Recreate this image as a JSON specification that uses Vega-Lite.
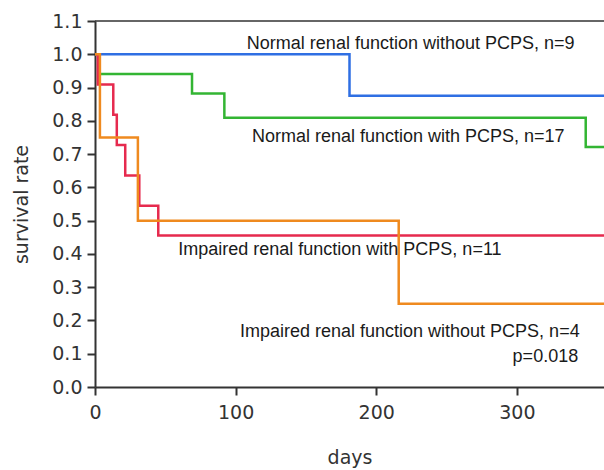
{
  "$schema": "https://vega.github.io/schema/vega-lite/v6.json",
  "width": 509,
  "height": 366,
  "autosize": {"type": "none"},
  "padding": {"left": 95, "top": 21, "right": 0, "bottom": 83},
  "background": "white",
  "config": {
    "view": {"stroke": null},
    "axis": {
      "grid": false,
      "domainColor": "#333333",
      "domainWidth": 2,
      "tickColor": "#333333",
      "tickWidth": 2,
      "tickSize": 8,
      "labelOverlap": false,
      "labelFlush": false,
      "labelFont": "DejaVu Sans",
      "labelFontSize": 19,
      "labelColor": "#333333",
      "titleFont": "DejaVu Sans",
      "titleFontSize": 19,
      "titleFontWeight": "normal",
      "titleColor": "#333333"
    }
  },
  "datasets": {
    "curves": [
      {"group": "normal_without", "day": 0, "surv": 1.0},
      {"group": "normal_without", "day": 181, "surv": 0.875},
      {"group": "normal_without", "day": 362, "surv": 0.875},
      {"group": "normal_with", "day": 0, "surv": 1.0},
      {"group": "normal_with", "day": 3, "surv": 0.941},
      {"group": "normal_with", "day": 69, "surv": 0.882},
      {"group": "normal_with", "day": 92, "surv": 0.809},
      {"group": "normal_with", "day": 349, "surv": 0.721},
      {"group": "normal_with", "day": 362, "surv": 0.721},
      {"group": "impaired_with", "day": 0, "surv": 1.0},
      {"group": "impaired_with", "day": 2, "surv": 0.909},
      {"group": "impaired_with", "day": 13, "surv": 0.818},
      {"group": "impaired_with", "day": 15.5, "surv": 0.727},
      {"group": "impaired_with", "day": 21.5, "surv": 0.636},
      {"group": "impaired_with", "day": 31.5, "surv": 0.545},
      {"group": "impaired_with", "day": 45, "surv": 0.455},
      {"group": "impaired_with", "day": 362, "surv": 0.455},
      {"group": "impaired_without", "day": 0, "surv": 1.0},
      {"group": "impaired_without", "day": 3.5, "surv": 0.75},
      {"group": "impaired_without", "day": 30.5, "surv": 0.5},
      {"group": "impaired_without", "day": 216, "surv": 0.25},
      {"group": "impaired_without", "day": 362, "surv": 0.25}
    ],
    "notes": [
      {"label": "Normal renal function without PCPS, n=9", "day": 108, "surv": 1.016},
      {"label": "Normal renal function with PCPS, n=17", "day": 111.6, "surv": 0.737},
      {"label": "Impaired renal function with PCPS, n=11", "day": 59.2, "surv": 0.397},
      {"label": "Impaired renal function without PCPS, n=4", "day": 103.1, "surv": 0.15},
      {"label": "p=0.018", "day": 297, "surv": 0.075}
    ]
  },
  "layer": [
    {
      "data": {"name": "curves"},
      "mark": {"type": "line", "interpolate": "step-after", "strokeWidth": 2.5, "clip": true},
      "encoding": {
        "x": {
          "field": "day",
          "type": "quantitative",
          "scale": {"domain": [0, 362], "nice": false, "zero": false},
          "axis": {
            "title": "days",
            "values": [0, 100, 200, 300],
            "labelPadding": 8,
            "titlePadding": 26
          }
        },
        "y": {
          "field": "surv",
          "type": "quantitative",
          "scale": {"domain": [0, 1.1], "nice": false},
          "axis": {
            "title": "survival rate",
            "values": [0, 0.1, 0.2, 0.3, 0.4, 0.5, 0.6, 0.7, 0.8, 0.9, 1.0, 1.1],
            "tickCount": 12,
            "format": ".1f",
            "labelPadding": 5,
            "titlePadding": 20
          }
        },
        "color": {
          "field": "group",
          "type": "nominal",
          "scale": {
            "domain": ["normal_without", "normal_with", "impaired_with", "impaired_without"],
            "range": ["#2f6fe3", "#33b533", "#e62a4e", "#ef8a1f"]
          },
          "legend": null
        }
      }
    },
    {
      "data": {"values": [{"y": 1.1}]},
      "mark": {"type": "rule", "color": "#333333", "strokeWidth": 1.5},
      "encoding": {
        "y": {
          "field": "y",
          "type": "quantitative",
          "scale": {"domain": [0, 1.1], "nice": false},
          "axis": {
            "title": "survival rate",
            "values": [0, 0.1, 0.2, 0.3, 0.4, 0.5, 0.6, 0.7, 0.8, 0.9, 1.0, 1.1],
            "tickCount": 12,
            "format": ".1f",
            "labelPadding": 5,
            "titlePadding": 20
          }
        }
      }
    },
    {
      "data": {"name": "notes"},
      "mark": {"type": "text", "align": "left", "baseline": "alphabetic", "font": "Liberation Sans", "fontSize": 18, "color": "#1a1a1a"},
      "encoding": {
        "x": {
          "field": "day",
          "type": "quantitative",
          "scale": {"domain": [0, 362], "nice": false, "zero": false},
          "axis": {
            "title": "days",
            "values": [0, 100, 200, 300],
            "labelPadding": 8,
            "titlePadding": 26
          }
        },
        "y": {
          "field": "surv",
          "type": "quantitative",
          "scale": {"domain": [0, 1.1], "nice": false},
          "axis": {
            "title": "survival rate",
            "values": [0, 0.1, 0.2, 0.3, 0.4, 0.5, 0.6, 0.7, 0.8, 0.9, 1.0, 1.1],
            "tickCount": 12,
            "format": ".1f",
            "labelPadding": 5,
            "titlePadding": 20
          }
        },
        "text": {"field": "label"}
      }
    }
  ]
}
